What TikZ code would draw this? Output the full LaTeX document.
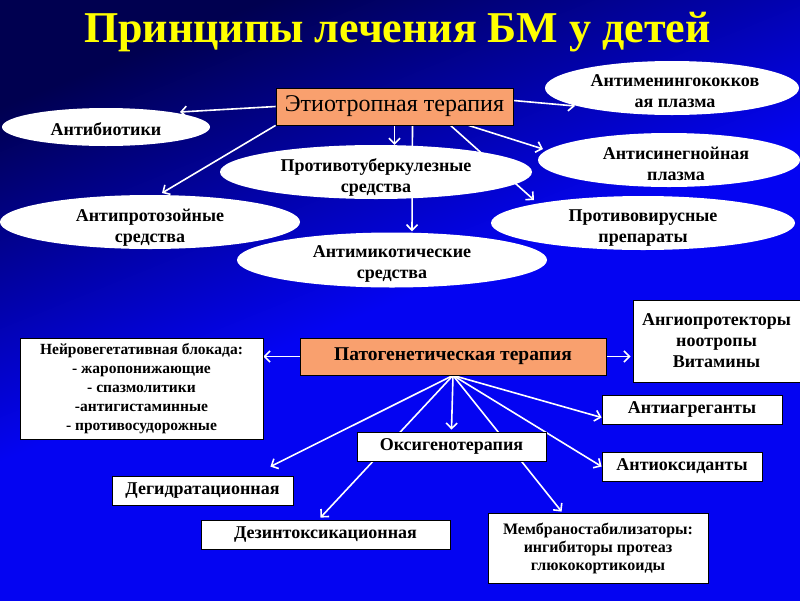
\documentclass[tikz,border=0pt]{standalone}
\usepackage{fontspec}
\setmainfont{Liberation Serif}
\usetikzlibrary{shapes.geometric,arrows.meta,calc}
\definecolor{bgtop}{HTML}{000050}
\definecolor{bgbot}{HTML}{0404F2}
\definecolor{salmon}{HTML}{F9A06E}
\definecolor{titleyellow}{HTML}{FFFF00}
\pgfdeclareverticalshading{bgshade}{100bp}{color(0bp)=(bgbot); color(25bp)=(bgbot); color(50bp)=(bgbot); color(75bp)=(bgtop); color(100bp)=(bgtop)}
\pgfdeclarelayer{backlayer}
\pgfdeclarelayer{linelayer}
\pgfsetlayers{backlayer,linelayer,main}
\begin{document}
\begin{tikzpicture}[x=1pt,y=-1pt,
  conn/.style={draw=white, line width=1.6pt},
  arr/.style={conn, -{Straight Barb[length=5.5pt,width=11pt]}},
  ell/.style={ellipse, fill=white, inner sep=0pt},
  elltext/.style={align=center, font=\bfseries\fontsize{18}{21}\selectfont, inner sep=0pt},
  wbox/.style={rectangle, fill=white, draw=black, line width=0.8pt, inner sep=0pt, align=center, font=\bfseries\fontsize{18}{21}\selectfont},
  obox/.style={rectangle, fill=salmon, draw=black, line width=0.8pt, inner sep=0pt},
]
\useasboundingbox (0,0) rectangle (800,600);
\begin{pgfonlayer}{backlayer}
\shade[shading=bgshade, shading angle=22] (0,0) rectangle (800,600);
\end{pgfonlayer}

% title
\node[font=\bfseries\fontsize{44}{48}\selectfont, text=titleyellow] (title) at (397.5,32.5) {Принципы лечения БМ у детей};

% main boxes
\node[obox, minimum width=237pt, minimum height=37pt, font=\fontsize{24}{27}\selectfont] (etio) at (394.5,106.5) {Этиотропная терапия};
\node[obox, minimum width=306pt, minimum height=37pt, font=\bfseries\fontsize{19.5}{22}\selectfont] (pato) at (453,356.5) {Патогенетическая терапия};

% ellipses
\node[ell, minimum width=254pt, minimum height=54pt] (antimening) at (672,88) {};
\node[ell, minimum width=208pt, minimum height=38pt] (antibio) at (106,127) {};
\node[ell, minimum width=312pt, minimum height=54pt] (tuberc) at (376,172) {};
\node[ell, minimum width=262pt, minimum height=54pt] (antisineg) at (669,160) {};
\node[ell, minimum width=300pt, minimum height=54pt] (antiproto) at (150,222) {};
\node[ell, minimum width=304pt, minimum height=54pt] (protivovir) at (643,223) {};
\node[ell, minimum width=310pt, minimum height=55pt] (antimyc) at (392,260) {};

% ellipse texts
\node[elltext] (t-antimening) at ($(antimening.center)+(3,3)$) {Антименингококков\\ая плазма};
\node[elltext] (t-antibio) at ($(antibio.center)+(0,2)$) {Антибиотики};
\node[elltext] (t-tuberc) at ($(tuberc.center)+(0,5)$) {Противотуберкулезные\\средства};
\node[elltext] (t-antisineg) at ($(antisineg.center)+(7,4)$) {Антисинегнойная\\плазма};
\node[elltext] (t-antiproto) at ($(antiproto.center)+(0,6)$) {Антипротозойные\\средства};
\node[elltext] (t-protivovir) at ($(protivovir.center)+(0,5)$) {Противовирусные\\препараты};
\node[elltext] (t-antimyc) at ($(antimyc.center)+(0,4)$) {Антимикотические\\средства};

% lower boxes
\node[wbox, minimum width=243pt, minimum height=101pt, font=\bfseries\fontsize{15.5}{19}\selectfont] (neuro) at (141.5,388.5) {Нейровегетативная блокада:\\- жаропонижающие\\- спазмолитики\\-антигистаминные\\- противосудорожные};
\node[wbox, minimum width=167pt, minimum height=82pt] (angio) at (716.5,341) {Ангиопротекторы\\ноотропы\\Витамины};
\node[wbox, minimum width=180pt, minimum height=29pt] (antiagr) at (692,409.5) {Антиагреганты};
\node[wbox, minimum width=160pt, minimum height=29pt] (antiox) at (682,466.5) {Антиоксиданты};
\node[wbox, minimum width=189pt, minimum height=29pt] (oxy) at (451.5,446.5) {Оксигенотерапия};
\node[wbox, minimum width=181pt, minimum height=29pt] (degidr) at (202.5,490.5) {Дегидратационная};
\node[wbox, minimum width=249pt, minimum height=29pt] (desintox) at (325.5,534.5) {Дезинтоксикационная};
\node[wbox, minimum width=220pt, minimum height=70pt, font=\bfseries\fontsize{16}{18}\selectfont] (membr) at (598,548) {Мембраностабилизаторы:\\ингибиторы протеаз\\глюкокортикоиды};

\begin{pgfonlayer}{linelayer}
% upper connectors
\draw[arr] (etio.west) -- ($(antibio.center)+(74,-15)$);
\draw[arr] (etio.south west) -- ($(antiproto.center)+(12,-29)$);
\draw[arr] (etio.south) -- (etio.south |- tuberc.north);
\draw[arr] ($(etio.south)+(18,0)$) -- ($(antimyc.north)+(20,-1)$);
\draw[arr] ($(etio.south)+(56,0)$) -- ($(protivovir.center)+(-109,-23)$);
\draw[arr] ($(etio.south)+(74,0)$) -- ($(antisineg.center)+(-126,-11)$);
\draw[arr] ($(etio.east)+(0,-6)$) -- ($(antimening.center)+(-97,18)$);
% lower connectors
\coordinate (hub) at (pato.south);
\draw[arr] (pato.west) -- (neuro.east |- pato.west);
\draw[arr] (pato.east) -- ($(angio.west |- pato.east)+(-2,0)$);
\draw[arr] (hub) -- ($(antiagr.west)+(0,8)$);
\draw[arr] (hub) -- (antiox.west);
\draw[arr] (hub) -- ($(oxy.north)+(0,-2)$);
\draw[arr] (hub) -- ($(membr.north west)+(74,-1)$);
\draw[arr] (hub) -- ($(desintox.north)+(-5,-2)$);
\draw[arr] (hub) -- ($(degidr.north east)+(-23,-9)$);
\end{pgfonlayer}
\end{tikzpicture}
\end{document}
